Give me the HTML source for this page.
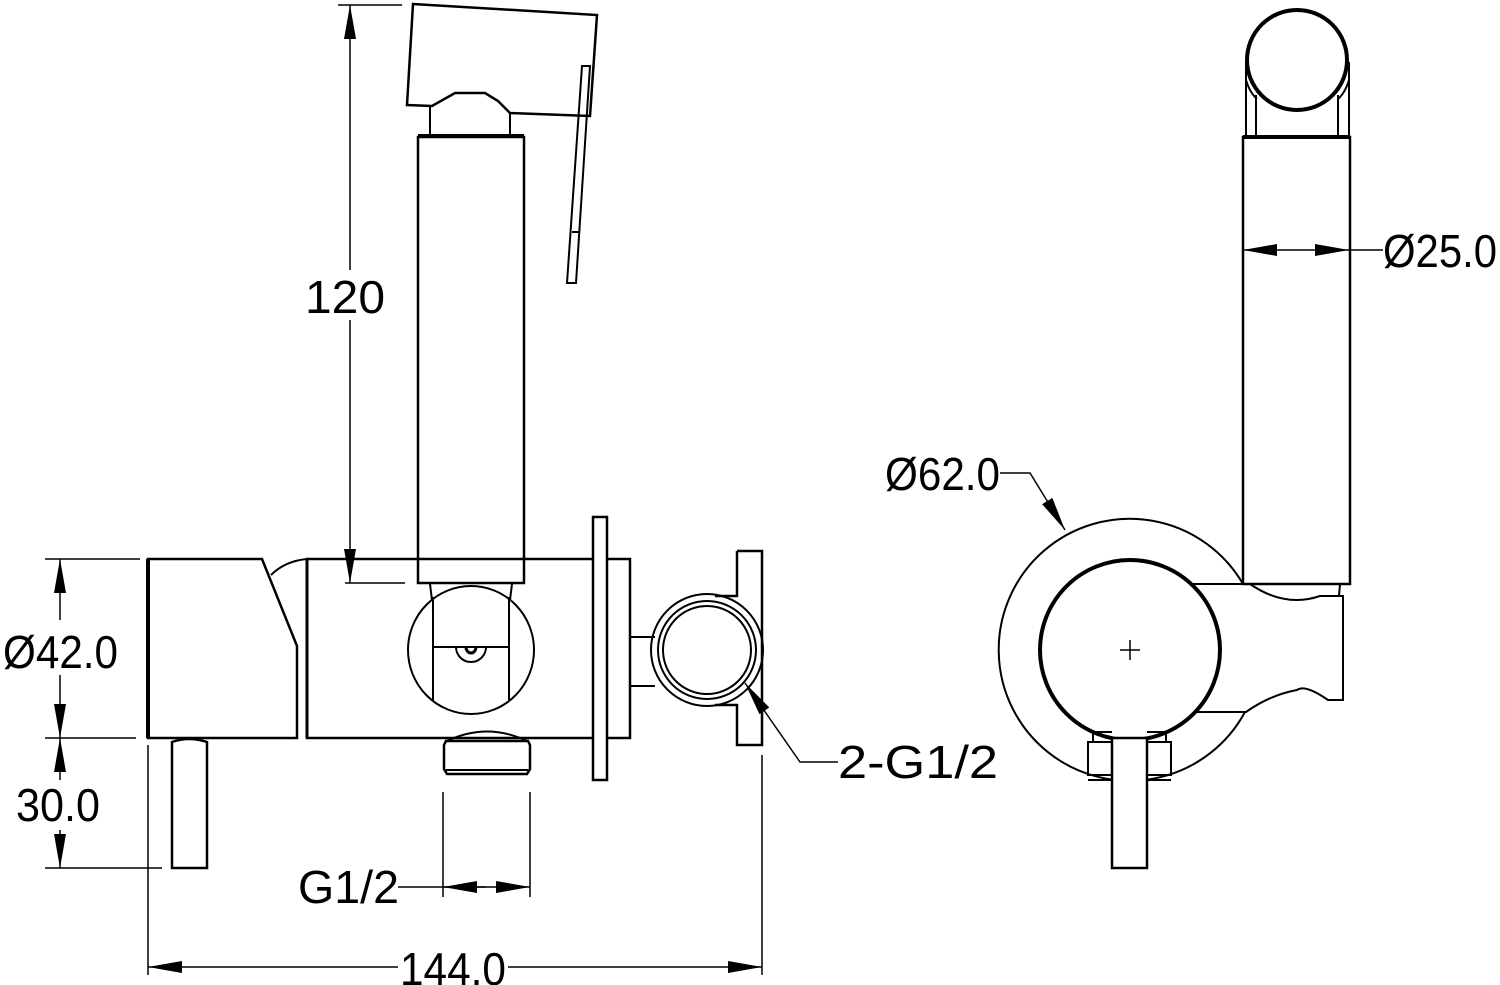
<!DOCTYPE html>
<html><head><meta charset="utf-8"><style>
html,body{margin:0;padding:0;background:#fff;}
svg{display:block;}
text{font-family:"Liberation Sans",sans-serif;font-size:46px;fill:#000;}
</style></head><body>
<svg width="1500" height="985" viewBox="0 0 1500 985" xmlns="http://www.w3.org/2000/svg">
<defs>
<marker id="a" viewBox="0 0 34 12" refX="34" refY="6" markerWidth="34" markerHeight="12" markerUnits="userSpaceOnUse" orient="auto-start-reverse"><path d="M0,0 L34,6 L0,12z" fill="#000"/></marker>
</defs>
<g fill="none" stroke="#000" stroke-width="2">
<!-- head -->
<path d="M413,4 L597,15 L590,116 L510,113 L498,101 L485,93 L455,93 L432,106 L407,105 Z" stroke-width="2.5"/>
<path d="M430,107 L430,135 M510,113 L510,135"/>
<line x1="418" y1="136" x2="524" y2="136" stroke-width="4"/>
<path d="M582,66 L590,66 L576,283 L567,283 Z"/>
<line x1="572" y1="232" x2="580" y2="232"/>
<!-- handle tube -->
<rect x="418" y="137" width="106" height="446" stroke-width="2.5"/>
<!-- ellipse under -->
<path d="M430,584 L432,600 M512,584 L510,600"/>
<ellipse cx="471" cy="650" rx="63" ry="64"/>
<path d="M433,597 L433,700 M509,597 L509,700 M433,647 L509,647"/>
<path d="M456,647 A15,15 0 0 0 486,647"/>
<path d="M466,647 A5,6 0 0 0 476,647" stroke-width="3"/>
<!-- left block -->
<path d="M148,559 L262,559 L297,646 L297,738 L148,738 Z" stroke-width="2.5"/>
<line x1="148" y1="559" x2="148" y2="738" stroke-width="4"/>
<path d="M271,575 Q285,561 307,559"/>
<!-- body -->
<path d="M307,559 L630,559 L630,738 L307,738 Z" stroke-width="2.5"/>
<line x1="307" y1="559" x2="307" y2="738" stroke-width="3"/>
<rect x="593" y="517" width="14" height="263" stroke-width="2.5" fill="#fff"/>
<!-- right fitting -->
<path d="M737,551 L762,551 L762,745 L737,745 L737,705 L715,705 M715,596 L737,596 L737,551" stroke-width="2.5"/>
<path d="M630,637 L655,637 M630,686 L655,686"/>
<circle cx="707" cy="650" r="56"/>
<circle cx="707" cy="650" r="49"/>
<circle cx="707" cy="650" r="44"/>
<!-- bottom nut -->
<path d="M447,741 Q487,722 527,741"/>
<path d="M446,741 L528,741 L530,745 L530,769 L527,774 L447,774 L444,769 L444,745 Z" stroke-width="2.5"/>
<line x1="446" y1="770" x2="528" y2="770"/>
<!-- lever -->
<path d="M172,742 Q189,736 207,742 L207,868 L172,868 Z" stroke-width="2.5"/>
<!-- right view -->
<path d="M1243,584 A131,131 0 1 0 1245,712"/>
<circle cx="1130" cy="650" r="90" stroke-width="4"/>
<path d="M1120,650 L1140,650 M1130,640 L1130,660" stroke-width="1.5"/>
<rect x="1243" y="137" width="107" height="447" stroke-width="2.5"/>
<line x1="1243" y1="137" x2="1350" y2="137" stroke-width="4"/>
<circle cx="1297" cy="60" r="50" stroke-width="4"/>
<path d="M1246,62 L1246,136 M1349,62 L1349,136 M1256,95 L1256,136 M1338,95 L1338,136 M1246,80 Q1250,93 1257,99 M1349,80 Q1345,93 1338,99"/>
<path d="M1193,584 L1350,584"/>
<path d="M1250,584 Q1285,608 1320,596 L1343,596 L1343,700 L1328,700 Q1305,684 1297,690 Q1270,695 1246,712 L1197,712"/>
<path d="M1340,584 L1339,596"/>
<rect x="1112" y="738" width="35" height="130" stroke-width="2.5" fill="#fff"/>
<path d="M1088,742 L1112,742 L1112,775 L1088,775 Z M1147,742 L1171,742 L1171,775 L1147,775 Z" stroke-width="2"/>
<path d="M1093,742 L1093,732 L1112,732 M1147,732 L1166,732 L1166,742"/>
<path d="M1088,780 L1112,780 M1147,780 L1171,780"/>
</g>
<!-- dimensions -->
<g fill="none" stroke="#000" stroke-width="1.5">
<line x1="338" y1="5" x2="402" y2="5"/>
<line x1="345" y1="583" x2="405" y2="583"/>
<line x1="350" y1="5" x2="350" y2="270" marker-start="url(#a)"/>
<line x1="350" y1="320" x2="350" y2="583" marker-end="url(#a)"/>
<line x1="45" y1="559" x2="140" y2="559"/>
<line x1="45" y1="738" x2="136" y2="738"/>
<line x1="45" y1="868" x2="162" y2="868"/>
<line x1="60" y1="559" x2="60" y2="620" marker-start="url(#a)"/>
<line x1="60" y1="675" x2="60" y2="738" marker-end="url(#a)"/>
<line x1="60" y1="738" x2="60" y2="780" marker-start="url(#a)"/>
<line x1="60" y1="830" x2="60" y2="868" marker-end="url(#a)"/>
<line x1="148" y1="745" x2="148" y2="975"/>
<line x1="762" y1="755" x2="762" y2="975"/>
<line x1="148" y1="967" x2="398" y2="967" marker-start="url(#a)"/>
<line x1="508" y1="967" x2="762" y2="967" marker-end="url(#a)"/>
<line x1="443" y1="792" x2="443" y2="897"/>
<line x1="530" y1="792" x2="530" y2="897"/>
<line x1="398" y1="887" x2="487" y2="887"/>
<line x1="443" y1="887" x2="486" y2="887" marker-start="url(#a)"/>
<line x1="487" y1="887" x2="530" y2="887" marker-end="url(#a)"/>
<path d="M745,683 L800,762 L838,762" marker-start="url(#a)"/>
<line x1="1243" y1="250" x2="1296" y2="250" marker-start="url(#a)"/>
<line x1="1296" y1="250" x2="1349" y2="250" marker-end="url(#a)"/>
<line x1="1349" y1="250" x2="1383" y2="250"/>
<path d="M1000,473 L1030,473 L1065,530" marker-end="url(#a)"/>
</g>
<g>
<text x="305" y="313" textLength="80" lengthAdjust="spacingAndGlyphs">120</text>
<text x="3" y="668" textLength="115" lengthAdjust="spacingAndGlyphs">Ø42.0</text>
<text x="16" y="821" textLength="84" lengthAdjust="spacingAndGlyphs">30.0</text>
<text x="298" y="903" textLength="101" lengthAdjust="spacingAndGlyphs">G1/2</text>
<text x="400" y="985" textLength="106" lengthAdjust="spacingAndGlyphs">144.0</text>
<text x="838" y="778" textLength="160" lengthAdjust="spacingAndGlyphs">2-G1/2</text>
<text x="1383" y="267" textLength="114" lengthAdjust="spacingAndGlyphs">Ø25.0</text>
<text x="885" y="490" textLength="115" lengthAdjust="spacingAndGlyphs">Ø62.0</text>
</g>
</svg>
</body></html>
